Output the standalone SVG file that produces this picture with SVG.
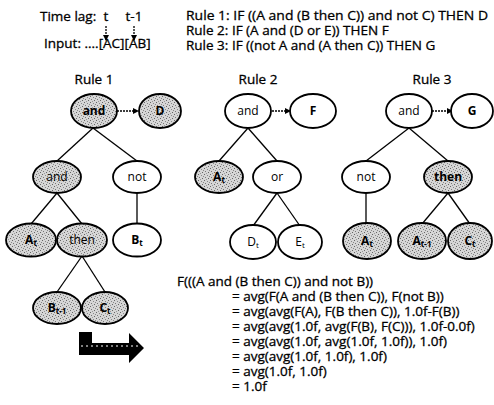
<svg xmlns="http://www.w3.org/2000/svg" width="494" height="405" viewBox="0 0 494 405">
<style>
text{font-family:"Open Sans","Noto Sans","Liberation Sans",sans-serif;font-size:13.5px;fill:#000}
.t{stroke:#000;stroke-width:0.3}
.n ellipse{stroke:#000;stroke-width:1.8}
.w ellipse{fill:#fff}
.s ellipse{fill:url(#stip)}
.n text{text-anchor:middle;font-size:12px}
.b{font-weight:bold}
.sub{font-size:8px}
.e{stroke:#000;stroke-width:1.3;fill:none}
.d{stroke:#000;stroke-width:1.3;stroke-dasharray:2 1;fill:none}
</style>
<defs>
<pattern id="stip" width="6" height="6" patternUnits="userSpaceOnUse">
<rect width="6" height="6" fill="#d6d6d6"/>
<rect x="0" y="0" width="1" height="1" fill="#666"/>
<rect x="3" y="1" width="1" height="1" fill="#888"/>
<rect x="1" y="3" width="1" height="1" fill="#777"/>
<rect x="4" y="4" width="1" height="1" fill="#666"/>
<rect x="2" y="5" width="1" height="1" fill="#999"/>
<rect x="5" y="2" width="1" height="1" fill="#888"/>
</pattern>
<marker id="ah" markerWidth="6" markerHeight="6" refX="5" refY="3" orient="auto" markerUnits="userSpaceOnUse">
<path d="M0,0 L6,3 L0,6 Z" fill="#000"/>
</marker>
</defs>

<!-- header texts -->
<g class="t">
<text x="40" y="21">Time lag:</text>
<text x="106" y="21" text-anchor="middle">t</text>
<text x="134" y="21" text-anchor="middle">t-1</text>
<text x="44" y="48">Input: ....[AC][AB]</text>
<text x="186" y="20" textLength="302" lengthAdjust="spacingAndGlyphs">Rule 1: IF ((A and (B then C)) and not C) THEN D</text>
<text x="186" y="35">Rule 2: IF (A and (D or E)) THEN F</text>
<text x="186" y="50">Rule 3: IF ((not A and (A then C)) THEN G</text>
<text x="94" y="84" text-anchor="middle">Rule 1</text>
<text x="258" y="84" text-anchor="middle">Rule 2</text>
<text x="432" y="84" text-anchor="middle">Rule 3</text>
</g>

<!-- connectors -->
<g id="connectors">
<line class="d" x1="106" y1="26" x2="106" y2="40" marker-end="url(#ah)"/>
<line class="d" x1="134" y1="26" x2="134" y2="40" marker-end="url(#ah)"/>
<line class="d" x1="117" y1="111" x2="138" y2="111" marker-end="url(#ah)"/>
<line class="d" x1="272" y1="111" x2="290" y2="111" marker-end="url(#ah)"/>
<line class="d" x1="432" y1="111" x2="452" y2="111" marker-end="url(#ah)"/>
<!-- rule 1 -->
<line class="e" x1="93" y1="128" x2="57" y2="161"/>
<line class="e" x1="93" y1="128" x2="137" y2="161"/>
<line class="e" x1="57" y1="193" x2="31" y2="224"/>
<line class="e" x1="57" y1="193" x2="82" y2="224"/>
<line class="e" x1="137" y1="193" x2="137" y2="224"/>
<line class="e" x1="82" y1="256" x2="57" y2="292"/>
<line class="e" x1="82" y1="256" x2="105" y2="292"/>
<!-- rule 2 -->
<line class="e" x1="248" y1="128" x2="219" y2="161"/>
<line class="e" x1="248" y1="128" x2="277" y2="161"/>
<line class="e" x1="277" y1="193" x2="253" y2="226"/>
<line class="e" x1="277" y1="193" x2="300" y2="226"/>
<!-- rule 3 -->
<line class="e" x1="409" y1="128" x2="366" y2="161"/>
<line class="e" x1="409" y1="128" x2="448" y2="161"/>
<line class="e" x1="366" y1="193" x2="366" y2="224"/>
<line class="e" x1="448" y1="193" x2="422" y2="224"/>
<line class="e" x1="448" y1="193" x2="470" y2="224"/>
</g>

<!-- Rule 1 nodes -->
<g id="r1-and" class="n s"><ellipse cx="94" cy="111" rx="23" ry="17"/><text x="94" y="115" class="b">and</text></g>
<g id="r1-D" class="n s"><ellipse cx="160" cy="111" rx="21" ry="17"/><text x="160" y="115" class="b">D</text></g>
<g id="r1-and2" class="n s"><ellipse cx="57" cy="177" rx="24" ry="16"/><text x="57" y="181">and</text></g>
<g id="r1-not" class="n w"><ellipse cx="137" cy="177" rx="24" ry="16"/><text x="137" y="181">not</text></g>
<g id="r1-At" class="n s"><ellipse cx="31" cy="240" rx="25" ry="16.5"/><text x="31" y="244" class="b">A<tspan class="sub" dy="2">t</tspan></text></g>
<g id="r1-then" class="n s"><ellipse cx="82" cy="240" rx="25" ry="16.5"/><text x="82" y="244">then</text></g>
<g id="r1-Bt" class="n w"><ellipse cx="137" cy="240" rx="24" ry="16.5"/><text x="137" y="244" class="b">B<tspan class="sub" dy="2">t</tspan></text></g>
<g id="r1-Bt1" class="n s"><ellipse cx="57" cy="308" rx="24" ry="16"/><text x="57" y="312" class="b">B<tspan class="sub" dy="2">t-1</tspan></text></g>
<g id="r1-Ct" class="n s"><ellipse cx="105" cy="308" rx="23" ry="16"/><text x="105" y="312" class="b">C<tspan class="sub" dy="2">t</tspan></text></g>

<!-- Rule 2 nodes -->
<g id="r2-and" class="n w"><ellipse cx="248" cy="111" rx="23" ry="17"/><text x="248" y="115">and</text></g>
<g id="r2-F" class="n w"><ellipse cx="313" cy="111" rx="23" ry="17"/><text x="313" y="115" class="b">F</text></g>
<g id="r2-At" class="n s"><ellipse cx="219" cy="177" rx="24" ry="16"/><text x="219" y="181" class="b">A<tspan class="sub" dy="2">t</tspan></text></g>
<g id="r2-or" class="n w"><ellipse cx="277" cy="177" rx="24" ry="16"/><text x="277" y="181">or</text></g>
<g id="r2-Dt" class="n w"><ellipse cx="253" cy="242" rx="23" ry="17"/><text x="253" y="246">D<tspan class="sub" dy="2">t</tspan></text></g>
<g id="r2-Et" class="n w"><ellipse cx="300" cy="242" rx="22" ry="17"/><text x="300" y="246">E<tspan class="sub" dy="2">t</tspan></text></g>

<!-- Rule 3 nodes -->
<g id="r3-and" class="n w"><ellipse cx="409" cy="111" rx="23" ry="17"/><text x="409" y="115">and</text></g>
<g id="r3-G" class="n w"><ellipse cx="472" cy="111" rx="21" ry="17"/><text x="472" y="115" class="b">G</text></g>
<g id="r3-not" class="n w"><ellipse cx="366" cy="177" rx="24" ry="16"/><text x="366" y="181">not</text></g>
<g id="r3-then" class="n s"><ellipse cx="448" cy="177" rx="24" ry="16"/><text x="448" y="181" class="b">then</text></g>
<g id="r3-At" class="n s"><ellipse cx="367" cy="241" rx="24" ry="18"/><text x="367" y="245" class="b">A<tspan class="sub" dy="2">t</tspan></text></g>
<g id="r3-At1" class="n s"><ellipse cx="422" cy="241" rx="24" ry="18"/><text x="422" y="245" class="b">A<tspan class="sub" dy="2">t-1</tspan></text></g>
<g id="r3-Ct" class="n s"><ellipse cx="470" cy="241" rx="22" ry="18"/><text x="470" y="245" class="b">C<tspan class="sub" dy="2">t</tspan></text></g>

<!-- big arrow -->
<path d="M79,332 H92 V343 H129 V333 L144,348 L129,363 V355 H79 Z" fill="#000"/>
<line x1="81" y1="346" x2="140" y2="346" stroke="#fff" stroke-width="1" stroke-dasharray="2 3"/>

<!-- formula -->
<g class="t">
<text x="177" y="286">F(((A and (B then C)) and not B))</text>
<text x="232" y="301">= avg(F(A and (B then C)), F(not B))</text>
<text x="232" y="316">= avg(avg(F(A), F(B then C)), 1.0f-F(B))</text>
<text x="232" y="331">= avg(avg(1.0f, avg(F(B), F(C))), 1.0f-0.0f)</text>
<text x="232" y="346">= avg(avg(1.0f, avg(1.0f, 1.0f)), 1.0f)</text>
<text x="232" y="361">= avg(avg(1.0f, 1.0f), 1.0f)</text>
<text x="232" y="376">= avg(1.0f, 1.0f)</text>
<text x="232" y="391">= 1.0f</text>
</g>
</svg>
